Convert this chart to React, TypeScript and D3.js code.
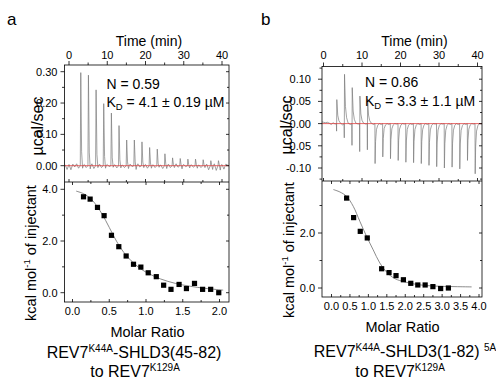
import React from "react";
import * as d3 from "d3";

const FONT = "'Liberation Sans', Arial, Helvetica, sans-serif";

// ---------- panel a : REV7K44A-SHLD3(45-82) to REV7K129A ----------
const injTimeA = [3, 5, 7, 9, 11, 13, 15, 17, 19, 21, 23, 25, 27, 29, 31, 33, 35, 37, 39];
const peakA = [0.297, 0.289, 0.242, 0.198, 0.168, 0.128, 0.082, 0.082, 0.076, 0.058, 0.053, 0.038, 0.025, 0.023, 0.021, 0.021, 0.019, 0.016, 0.016];
const dipA = [-0.008, -0.01, -0.006, -0.008, -0.005, -0.007, -0.009, -0.012, -0.006, -0.008, -0.005, -0.009, -0.006, -0.01, -0.007, -0.008, -0.006, -0.012, -0.014];
// baseline wiggle, one value every 0.5 min starting at -1 min
const noiseA = [
  0.003, -0.012, 0.004, -0.013, 0.005, -0.004, 0.006, -0.008, 0.002, -0.005,
  0.004, -0.006, 0.005, -0.003, 0.006, -0.009, 0.003, -0.004, 0.005, -0.006,
  0.002, -0.016, 0.004, -0.003, 0.006, -0.005, 0.003, -0.007, 0.005, -0.004,
  0.002, -0.006, 0.004, -0.012, 0.005, -0.003, 0.003, -0.007, 0.006, -0.004,
  0.002, -0.005, 0.004, -0.008, 0.005, -0.003, 0.003, -0.006, 0.006, -0.004,
  0.002, -0.009, 0.004, -0.003, 0.005, -0.006, 0.003, -0.004, 0.006, -0.005,
  0.002, -0.007, 0.004, -0.003, 0.005, -0.006, 0.003, -0.005, 0.006, -0.004,
  0.002, -0.006, 0.004, -0.005, 0.005, -0.013, 0.003, -0.004, 0.006, -0.015,
  0.002, -0.006, 0.004, -0.011, 0.005, 0.002,
];
const ratioA = [0.15, 0.24, 0.34, 0.43, 0.53, 0.63, 0.73, 0.83, 0.93, 1.03, 1.14, 1.24, 1.34, 1.45, 1.55, 1.66, 1.77, 1.88, 1.99];
const heatA = [3.71, 3.62, 3.3, 2.98, 2.22, 1.78, 1.42, 1.1, 0.99, 0.77, 0.62, 0.29, 0.13, 0.32, 0.16, 0.36, 0.13, 0.13, 0.0];
const fitXA = [0.05, 0.15, 0.25, 0.35, 0.45, 0.55, 0.65, 0.75, 0.85, 0.95, 1.05, 1.2, 1.4, 1.6, 1.8, 2.05];
const fitYA = [3.93, 3.83, 3.63, 3.28, 2.8, 2.25, 1.75, 1.38, 1.1, 0.88, 0.72, 0.53, 0.36, 0.25, 0.17, 0.1];

// ---------- panel b : REV7K44A-SHLD3(1-82) 5A to REV7K129A ----------
const injTimeB = [3.4, 5.4, 7.4, 9.4, 11.4, 13.4, 15.4, 17.4, 19.4, 21.4, 23.4, 25.4, 27.4, 29.4, 31.4, 33.4, 35.4, 37.4, 39.4];
const upB = [0.054, 0.111, 0.081, 0.062, 0.055, 0, 0, 0, 0, 0, 0, 0, 0, 0, 0, 0, 0, 0, 0];
const downB = [-0.017, -0.032, -0.049, -0.063, -0.059, -0.09, -0.075, -0.079, -0.083, -0.087, -0.088, -0.09, -0.094, -0.097, -0.1, -0.098, -0.102, -0.083, -0.113];
// baseline wiggle, one value every 0.5 min starting at -0.5 min
const noiseB = [
  0.004, 0.003, 0.002, 0.003, 0.001, -0.002, 0.002, -0.001, 0.002, -0.002,
  0.001, -0.003, 0.002, -0.001, 0.002, -0.002, 0.001, -0.002, 0.002, -0.001,
  0.002, -0.002, 0.001, -0.001, 0.002, -0.002, 0.001, -0.002, 0.002, -0.001,
  0.002, -0.002, 0.001, -0.001, 0.003, -0.002, 0.001, -0.002, 0.002, -0.001,
  0.002, -0.002, 0.001, -0.001, 0.002, -0.002, 0.001, -0.002, 0.002, -0.001,
  0.002, -0.002, 0.001, -0.001, 0.002, -0.002, 0.001, -0.002, 0.002, -0.001,
  0.002, -0.002, 0.001, -0.001, 0.002, -0.002, 0.001, -0.002, 0.002, -0.001,
  0.002, -0.002, 0.001, -0.001, 0.002, -0.002, 0.001, -0.002, 0.002, -0.001,
  0.001, 0.0, 0.001, -0.001, 0.0,
];
const ratioB = [0.41, 0.6, 0.78, 0.97, 1.36, 1.56, 1.75, 1.95, 2.15, 2.34, 2.54, 2.75, 2.96, 3.17];
const heatB = [3.27, 2.56, 2.06, 1.82, 0.7, 0.56, 0.45, 0.3, 0.17, 0.11, 0.11, 0.05, -0.02, 0.0];
const fitXB = [0.05, 0.23, 0.41, 0.59, 0.77, 0.95, 1.13, 1.31, 1.5, 1.72, 1.99, 2.35, 2.8, 3.35, 3.8];
const fitYB = [3.58, 3.49, 3.33, 2.97, 2.42, 1.88, 1.39, 0.91, 0.57, 0.34, 0.22, 0.12, 0.07, 0.05, 0.04];

type P = [number, number];

function traceA(): P[] {
  const pts: P[] = [];
  noiseA.forEach((v, i) => {
    const t = -1 + i * 0.5;
    if (injTimeA.some((s) => t > s - 0.1 && t < s + 0.85)) return;
    pts.push([t, v]);
  });
  injTimeA.forEach((s, i) => {
    const h = peakA[i];
    pts.push([s - 0.05, 0], [s + 0.08, h], [s + 0.3, h * 0.15], [s + 0.55, dipA[i]], [s + 0.75, 0.001]);
  });
  return pts.sort((a, b) => a[0] - b[0]);
}

function traceB(): P[] {
  const pts: P[] = [];
  noiseB.forEach((v, i) => {
    const t = -0.5 + i * 0.5;
    if (injTimeB.some((s) => t > s - 0.1 && t < s + 1.15)) return;
    pts.push([t, v]);
  });
  injTimeB.forEach((s, i) => {
    const d = downB[i];
    const u = upB[i];
    if (u > 0) {
      pts.push([s - 0.05, 0], [s, d], [s + 0.06, u], [s + 0.3, u * 0.35], [s + 0.6, u * 0.12], [s + 1.0, 0.001]);
    } else {
      pts.push([s - 0.05, 0], [s, d], [s + 0.12, d * 0.45], [s + 0.35, d * 0.15], [s + 0.7, d * 0.04], [s + 1.1, 0]);
    }
  });
  return pts.sort((a, b) => a[0] - b[0]);
}

const K = "#000";
const SW = 0.8;

function ln(key: string, x1: number, y1: number, x2: number, y2: number) {
  return <line key={key} x1={x1} y1={y1} x2={x2} y2={y2} stroke={K} strokeWidth={SW} />;
}

function Panel(props: any) {
  const {
    id, box, t, yTop, xBot, yBot, trace, ratio, heat, fitX, fitY,
    topMaj, topMin, topFmt, botMaj, botMin, xMaj, xMin, topGap, botGap,
  } = props;
  const { L, R, T, M, B } = box;
  const els: any[] = [];

  // time axis (top)
  [0, 10, 20, 30, 40].forEach((v) => {
    els.push(ln(`tM${v}`, t(v), T, t(v), T - 4));
    els.push(ln(`tMb${v}`, t(v), M, t(v), M - 3));
    els.push(
      <text key={`tl${v}`} x={t(v)} y={59} fontSize={11} textAnchor="middle" fontFamily={FONT}>{v}</text>
    );
  });
  [5, 15, 25, 35].forEach((v) => {
    els.push(ln(`tm${v}`, t(v), T, t(v), T - 2.5));
    els.push(ln(`tmb${v}`, t(v), M, t(v), M - 2));
  });
  // µcal/sec axis
  topMaj.forEach((v: number) => {
    els.push(ln(`yM${v}`, L - 4, yTop(v), L, yTop(v)));
    els.push(ln(`yMr${v}`, R, yTop(v), R - 3, yTop(v)));
    els.push(
      <text key={`yl${v}`} x={L - topGap} y={yTop(v) + 4} fontSize={11} textAnchor="end" fontFamily={FONT}>{topFmt(v)}</text>
    );
  });
  topMin.forEach((v: number) => {
    els.push(ln(`ym${v}`, L - 2.5, yTop(v), L, yTop(v)));
    els.push(ln(`ymr${v}`, R, yTop(v), R - 2, yTop(v)));
  });
  // kcal axis
  botMaj.forEach((v: number) => {
    els.push(ln(`bM${v}`, L - 4, yBot(v), L, yBot(v)));
    els.push(ln(`bMr${v}`, R, yBot(v), R - 3, yBot(v)));
    els.push(
      <text key={`bl${v}`} x={L - botGap} y={yBot(v) + 4} fontSize={11} textAnchor="end" fontFamily={FONT}>{v.toFixed(1)}</text>
    );
  });
  botMin.forEach((v: number) => {
    els.push(ln(`bm${v}`, L - 2.5, yBot(v), L, yBot(v)));
    els.push(ln(`bmr${v}`, R, yBot(v), R - 2, yBot(v)));
  });
  // molar ratio axis
  xMaj.forEach((v: number) => {
    els.push(ln(`xM${v}`, xBot(v), B, xBot(v), B - 3));
    els.push(ln(`xMt${v}`, xBot(v), M, xBot(v), M + 3));
    els.push(
      <text key={`xl${v}`} x={xBot(v)} y={B + 13} fontSize={11} textAnchor="middle" fontFamily={FONT}>{v.toFixed(1)}</text>
    );
  });
  xMin.forEach((v: number) => {
    els.push(ln(`xm${v}`, xBot(v), B, xBot(v), B - 2));
    els.push(ln(`xmt${v}`, xBot(v), M, xBot(v), M + 2));
  });

  const tracePath = d3
    .line<P>()
    .x((d) => t(d[0]))
    .y((d) => yTop(d[1]))(trace) as string;
  const fitPts: P[] = fitX.map((x: number, i: number) => [x, fitY[i]]);
  const fitPath = d3
    .line<P>()
    .x((d) => xBot(d[0]))
    .y((d) => yBot(d[1]))
    .curve(d3.curveCatmullRom)(fitPts) as string;

  return (
    <g>
      <defs>
        <clipPath id={`clip${id}`}>
          <rect x={L} y={T} width={R - L} height={M - T} />
        </clipPath>
      </defs>
      <g clipPath={`url(#clip${id})`}>
        <path d={tracePath} fill="none" stroke="#7a7a7a" strokeWidth={0.7} />
        <line x1={L} x2={R} y1={yTop(0)} y2={yTop(0)} stroke="#e03a3a" strokeWidth={0.9} opacity={0.85} />
      </g>
      <path d={fitPath} fill="none" stroke="#6e6e6e" strokeWidth={0.8} />
      {ratio.map((x: number, i: number) => (
        <rect key={`pt${i}`} x={xBot(x) - 2.6} y={yBot(heat[i]) - 2.6} width={5.2} height={5.2} fill="#000" />
      ))}
      <rect x={L} y={T} width={R - L} height={B - T} fill="none" stroke={K} strokeWidth={SW} />
      {ln("mid", L, M, R, M)}
      {els}
    </g>
  );
}

export default function App() {
  const boxA = { L: 64.5, R: 229, T: 65, M: 182, B: 302 };
  const boxB = { L: 322, R: 482, T: 66.5, M: 181, B: 297 };

  const tA = d3.scaleLinear().domain([0, 40]).range([69, 222]);
  const yTopA = d3.scaleLinear().domain([0, 0.3]).range([165.7, 71.7]);
  const xBotA = d3.scaleLinear().domain([0, 2]).range([72.5, 219.5]);
  const yBotA = d3.scaleLinear().domain([0, 4]).range([292.7, 189.3]);

  const tB = d3.scaleLinear().domain([0, 40]).range([323.5, 477.5]);
  const yTopB = d3.scaleLinear().domain([-0.1, 0.1]).range([168, 79.2]);
  const xBotB = d3.scaleLinear().domain([0, 4]).range([331.5, 479]);
  const yBotB = d3.scaleLinear().domain([0, 2]).range([288, 233]);

  const txt = { fontFamily: FONT, fill: "#000" };

  return (
    <svg width={496} height={385} style={{ position: "absolute", left: 0, top: 0, background: "#fff" }}>
      <rect width={496} height={385} fill="#fff" />
      <Panel
        id="a" box={boxA} t={tA} yTop={yTopA} xBot={xBotA} yBot={yBotA}
        trace={traceA()} ratio={ratioA} heat={heatA} fitX={fitXA} fitY={fitYA}
        topMaj={[0, 0.1, 0.2, 0.3]} topMin={[0.05, 0.15, 0.25]} topFmt={(v: number) => v.toFixed(2)}
        botMaj={[0, 2, 4]} botMin={[1, 3]}
        xMaj={[0, 0.5, 1, 1.5, 2]} xMin={[0.25, 0.75, 1.25, 1.75]}
        topGap={7} botGap={7}
      />
      <Panel
        id="b" box={boxB} t={tB} yTop={yTopB} xBot={xBotB} yBot={yBotB}
        trace={traceB()} ratio={ratioB} heat={heatB} fitX={fitXB} fitY={fitYB}
        topMaj={[-0.1, -0.05, 0, 0.05, 0.1]} topMin={[-0.125, -0.075, -0.025, 0.025, 0.075, 0.125]}
        topFmt={(v: number) => v.toFixed(2)}
        botMaj={[0, 2]} botMin={[1, 3]}
        xMaj={[0, 0.5, 1, 1.5, 2, 2.5, 3, 3.5, 4]} xMin={[0.25, 0.75, 1.25, 1.75, 2.25, 2.75, 3.25, 3.75]}
        topGap={11} botGap={7}
      />

      {/* panel letters */}
      <text x={7} y={25} fontSize={17} {...txt}>a</text>
      <text x={261} y={25} fontSize={17} {...txt}>b</text>

      {/* axis titles */}
      <text x={149} y={46} fontSize={14} textAnchor="middle" {...txt}>Time (min)</text>
      <text x={414.5} y={46} fontSize={14} textAnchor="middle" {...txt}>Time (min)</text>
      <text transform="translate(43,126) rotate(-90)" fontSize={16} textAnchor="middle" {...txt}>µcal/sec</text>
      <text transform="translate(292,125) rotate(-90)" fontSize={16} textAnchor="middle" {...txt}>µcal/sec</text>
      <text transform="translate(36,253) rotate(-90)" fontSize={14.5} textAnchor="middle" {...txt}>
        kcal mol<tspan fontSize={9.5} dy={-6}>-1</tspan><tspan dy={6}> of injectant</tspan>
      </text>
      <text transform="translate(294,250) rotate(-90)" fontSize={14.5} textAnchor="middle" {...txt}>
        kcal mol<tspan fontSize={9.5} dy={-6}>-1</tspan><tspan dy={6}> of injectant</tspan>
      </text>
      <text x={147.5} y={336.5} fontSize={14.5} textAnchor="middle" {...txt}>Molar Ratio</text>
      <text x={402.5} y={332} fontSize={14.5} textAnchor="middle" {...txt}>Molar Ratio</text>

      {/* fit results */}
      <text x={106.5} y={89} fontSize={14} {...txt}>N = 0.59</text>
      <text x={106.5} y={107} fontSize={14} {...txt}>
        K<tspan fontSize={9.5} dy={3}>D</tspan><tspan dy={-3}> = 4.1 ± 0.19 µM</tspan>
      </text>
      <text x={365} y={87} fontSize={14} {...txt}>N = 0.86</text>
      <text x={365} y={106} fontSize={14} {...txt}>
        K<tspan fontSize={9.5} dy={3}>D</tspan><tspan dy={-3}> = 3.3 ± 1.1 µM</tspan>
      </text>

      {/* construct titles */}
      <text x={134} y={358} fontSize={16} textAnchor="middle" {...txt}>
        REV7<tspan fontSize={10} dy={-6}>K44A</tspan><tspan dy={6}>-SHLD3(45-82)</tspan>
      </text>
      <text x={135} y={377} fontSize={16} textAnchor="middle" {...txt}>
        to REV7<tspan fontSize={10} dy={-6}>K129A</tspan>
      </text>
      <text x={405} y={356.5} fontSize={16} textAnchor="middle" {...txt}>
        REV7<tspan fontSize={10} dy={-6}>K44A</tspan><tspan dy={6}>-SHLD3(1-82) </tspan>
        <tspan fontSize={10} dy={-6}>5A</tspan>
      </text>
      <text x={400} y={376.5} fontSize={16} textAnchor="middle" {...txt}>
        to REV7<tspan fontSize={10} dy={-6}>K129A</tspan>
      </text>
    </svg>
  );
}
